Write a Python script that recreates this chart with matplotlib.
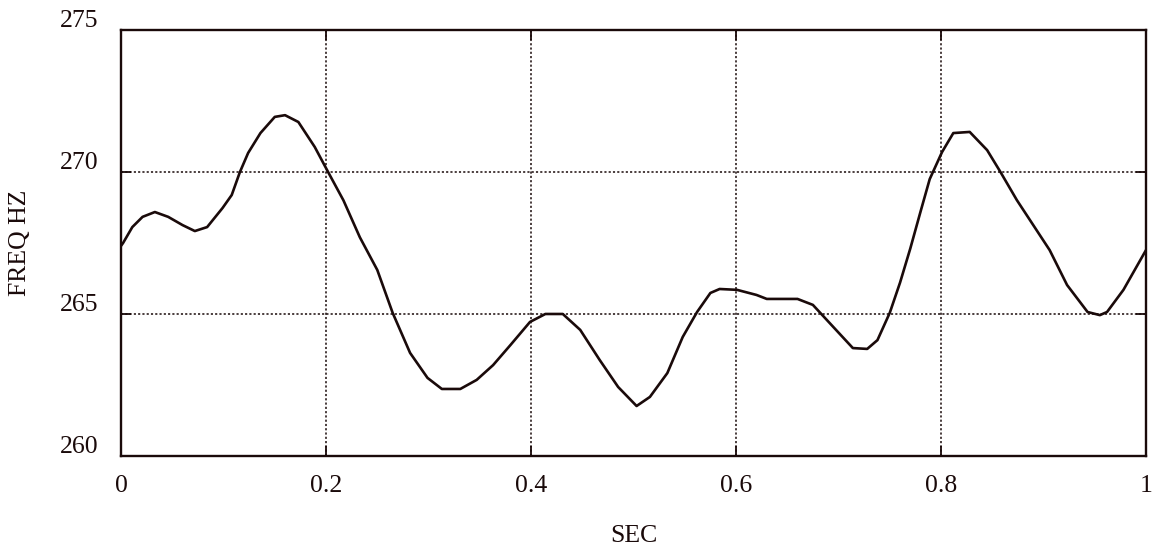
import numpy as np
import matplotlib.pyplot as plt
from matplotlib.transforms import ScaledTranslation

plt.rcParams['font.family'] = ['Liberation Serif', 'DejaVu Serif']

# pitch track, time in seconds and frequency in Hz
sec = [0.0, 0.002, 0.011, 0.021, 0.033, 0.046, 0.060, 0.072, 0.084, 0.099,
       0.108, 0.116, 0.124, 0.136, 0.150, 0.160, 0.173, 0.189, 0.202, 0.217,
       0.233, 0.250, 0.265, 0.282, 0.299, 0.313, 0.331, 0.347, 0.363,
       0.380, 0.399, 0.414, 0.431, 0.448, 0.467, 0.485, 0.503, 0.516, 0.533,
       0.548, 0.562, 0.575, 0.584, 0.601, 0.620, 0.630, 0.660, 0.675, 0.695,
       0.714, 0.728, 0.738, 0.750, 0.760, 0.770, 0.780, 0.789, 0.801, 0.812,
       0.828, 0.845, 0.858, 0.874, 0.890, 0.906, 0.923, 0.943, 0.955, 0.962,
       0.978, 1.0]
freq = [267.4, 267.5, 268.06, 268.42, 268.59, 268.42, 268.13, 267.92, 268.06, 268.73,
        269.19, 270.0, 270.67, 271.37, 271.94, 272.0, 271.76, 270.88, 270.0, 269.0,
        267.7, 266.55, 265.04, 263.63, 262.75, 262.36, 262.36, 262.68, 263.2,
        263.91, 264.72, 265.0, 265.0, 264.44, 263.38, 262.43, 261.76, 262.08, 262.92,
        264.19, 265.07, 265.74, 265.88, 265.85, 265.67, 265.53, 265.53, 265.32, 264.54,
        263.8, 263.77, 264.08, 265.04, 266.1, 267.3, 268.6, 269.75, 270.7, 271.37,
        271.41, 270.77, 270.0, 269.01, 268.13, 267.25, 266.02, 265.07, 264.96, 265.07,
        265.85, 267.25]

xticks = [0, 0.2, 0.4, 0.6, 0.8, 1]
xlabels = ['0', '0.2', '0.4', '0.6', '0.8', '1']
yticks = [260, 265, 270, 275]

ink = '#1a0a0a'

fig = plt.figure(figsize=(11.55, 5.48), dpi=100)
ax = fig.add_axes([0.1048, 0.1679, 0.8874, 0.7774])

ax.plot(sec, freq, color=ink, lw=1.9, solid_joinstyle='round')

ax.set_xlim(0, 1)
ax.set_ylim(260, 275)
ax.set_xticks(xticks)
ax.set_xticklabels(xlabels)
ax.set_yticks(yticks)

ax.grid(True, color=ink, lw=1.1, linestyle=(0, (1.4, 1.4)))
ax.tick_params(direction='in', length=7, width=1.3, color=ink,
               top=True, right=True, labelsize=18.5, labelcolor=ink)
ax.tick_params(axis='x', pad=14)
ax.tick_params(axis='y', pad=16)
for sp in ax.spines.values():
    sp.set_linewidth(1.7)
    sp.set_color(ink)

# y labels rest on their gridlines
shift = ScaledTranslation(0, 3 / 100, fig.dpi_scale_trans)
for lab in ax.get_yticklabels():
    lab.set_verticalalignment('baseline')
    lab.set_transform(lab.get_transform() + shift)

ax.set_xlabel('SEC', fontsize=18.5, color=ink, labelpad=20)
ax.set_ylabel('FREQ HZ', fontsize=18.5, color=ink, labelpad=21)

fig.savefig('out.png', dpi=100)
